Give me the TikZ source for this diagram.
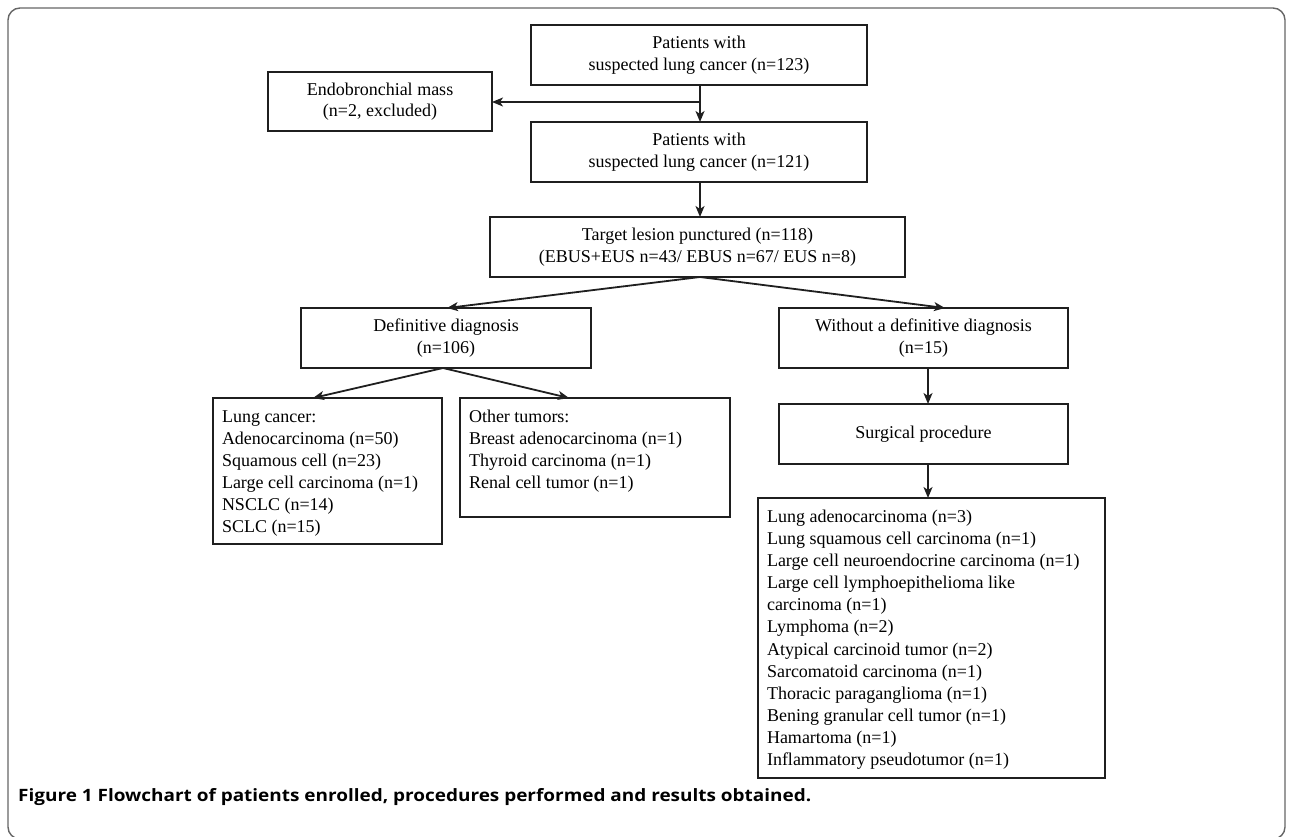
\documentclass[tikz,border=0pt]{standalone}
\usepackage{fontspec}
\setmainfont{Liberation Serif}
\newfontfamily\capfont{Open Sans}
\usetikzlibrary{arrows.meta,calc}
\newcommand{\listtext}[3]{\parbox[c][#1][t]{#2}{\vspace*{9pt}\strut#3}}
\begin{document}
\begin{tikzpicture}[x=1pt,y=-1pt,
  box/.style={draw=black!88, line width=1.8pt, inner sep=0pt, outer sep=0pt, anchor=north west,
     font=\fontsize{18}{21.5}\selectfont, align=center},
  listbox/.style={draw=black!88, line width=1.8pt, inner xsep=9pt, inner ysep=0pt, outer sep=0pt, anchor=north west,
     font=\fontsize{18}{22.1}\selectfont},
  arr/.style={draw=black!88, line width=1.8pt, -{Stealth[length=11pt,width=9pt,inset=3pt]}}]
\useasboundingbox (0,0) rectangle (1290,837);
\draw[draw=black!60, line width=1.4pt, rounded corners=12pt] (8,8) rectangle (1285,839);
% boxes
\node[box, minimum width=336pt, minimum height=60pt] (top) at (531,25) {Patients with\\suspected lung cancer (n=123)};
\node[box, minimum width=224pt, minimum height=59pt] (endo) at (268,72) {Endobronchial mass\\(n=2, excluded)};
\node[box, minimum width=336pt, minimum height=60pt] (sec) at (531,122) {Patients with\\suspected lung cancer (n=121)};
\node[box, minimum width=415pt, minimum height=60pt] (third) at (490,217) {Target lesion punctured (n=118)\\(EBUS+EUS n=43/ EBUS n=67/ EUS n=8)};
\node[box, minimum width=290pt, minimum height=60pt] (def) at (301,308) {Definitive diagnosis\\(n=106)};
\node[box, minimum width=289pt, minimum height=60pt] (wo) at (779,308) {Without a definitive diagnosis\\(n=15)};
\node[listbox] (lung) at (213,398) {\listtext{146pt}{211pt}{Lung cancer:\\Adenocarcinoma (n=50)\\Squamous cell (n=23)\\Large cell carcinoma (n=1)\\NSCLC (n=14)\\SCLC (n=15)}};
\node[listbox] (oth) at (460,398) {\listtext{119pt}{252pt}{Other tumors:\\Breast adenocarcinoma (n=1)\\Thyroid carcinoma (n=1)\\Renal cell tumor (n=1)}};
\node[box, minimum width=289pt, minimum height=60pt] (surg) at (779,404) {Surgical procedure};
\node[listbox] (fin) at (758,498) {\listtext{280pt}{329pt}{Lung adenocarcinoma (n=3)\\Lung squamous cell carcinoma (n=1)\\Large cell neuroendocrine carcinoma (n=1)\\Large cell lymphoepithelioma like\\carcinoma (n=1)\\Lymphoma (n=2)\\Atypical carcinoid tumor (n=2)\\Sarcomatoid carcinoma (n=1)\\Thoracic paraganglioma (n=1)\\Bening granular cell tumor (n=1)\\Hamartoma (n=1)\\Inflammatory pseudotumor (n=1)}};
% connectors
\draw[arr] (top.south -| 700,0) -- (sec.north -| 700,0);
\coordinate (br) at (700,102);
\draw[arr] (br) -- (endo.east |- br);
\draw[arr] (sec.south -| 700,0) -- (third.north -| 700,0);
\coordinate (tb) at (third.south -| 700,0);
\draw[arr] (tb) -- (def.north -| 447,0);
\draw[arr] (tb) -- (wo.north -| 945,0);
\coordinate (db) at (def.south -| 443,0);
\draw[arr] (db) -- (lung.north -| 313,0);
\draw[arr] (db) -- (oth.north -| 569,0);
\draw[arr] (wo.south -| 928,0) -- (surg.north -| 928,0);
\draw[arr] (surg.south -| 928,0) -- (fin.north -| 928,0);
% caption
\node[anchor=base west, inner sep=0pt] (cap) at (18,801) {\resizebox{793pt}{\height}{\capfont\fontsize{17}{20}\selectfont\bfseries Figure 1 Flowchart of patients enrolled, procedures performed and results obtained.}};
\end{tikzpicture}
\end{document}
